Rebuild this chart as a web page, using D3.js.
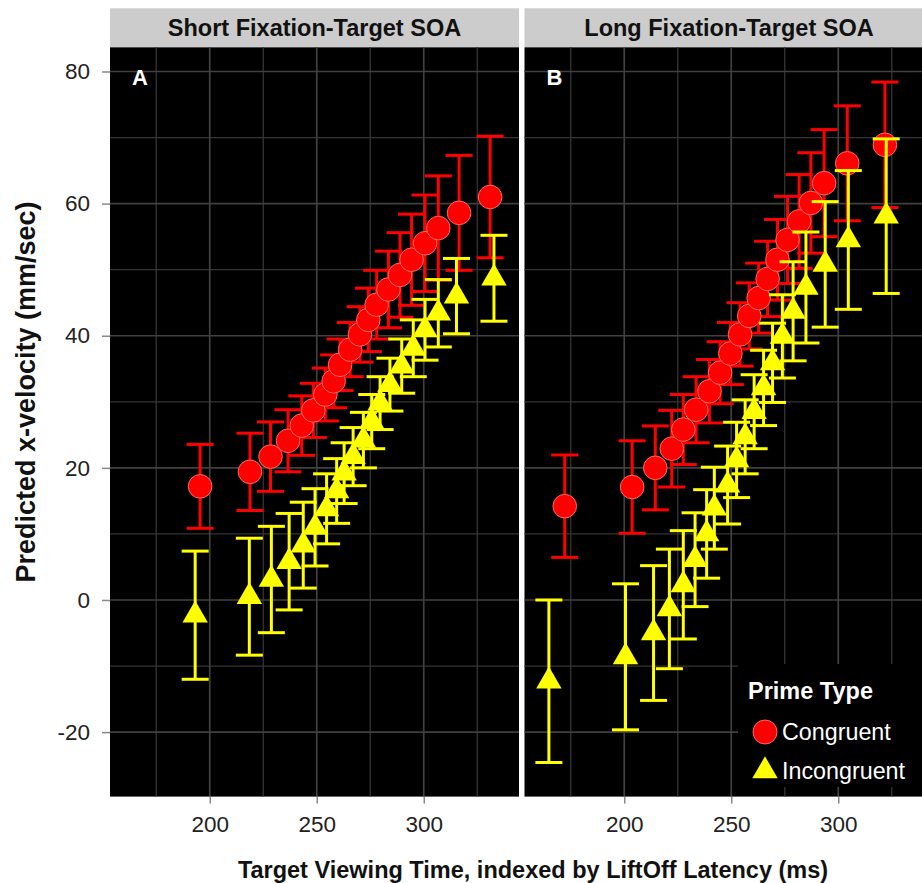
<!DOCTYPE html>
<html>
<head>
<meta charset="utf-8">
<script src="https://cdn.jsdelivr.net/npm/d3@7"></script>
<style>
  body { margin: 0; background: #ffffff; }
  svg { display: block; font-family: "Liberation Sans", Arial, Helvetica, sans-serif; }
</style>
</head>
<body>
<svg id="chart" width="922" height="883"></svg>
<script>
// ---------------- DATA ----------------
const panelTitles = ["Short Fixation-Target SOA", "Long Fixation-Target SOA"];
const panelTags = ["A", "B"];
const seriesNames = ["Congruent", "Incongruent"];
const xTicks = [200, 250, 300];
const xMinorTicks = [175, 225, 275, 325];
const yTicks = [-20, 0, 20, 40, 60, 80];
const yMinorTicks = [-10, 10, 30, 50, 70];

// Short SOA, Congruent
const shortCongX  = [195.5, 218.8, 228.4, 236.6, 243.0, 248.4, 254.0, 257.9, 260.9, 265.6, 270.2, 274.1, 278.0, 283.5, 288.9, 294.3, 300.6, 306.8, 316.5, 331.0];
const shortCongY  = [17.2, 19.4, 21.7, 24.1, 26.4, 28.7, 31.1, 33.1, 35.6, 37.9, 40.2, 42.4, 44.7, 47.0, 49.2, 51.5, 54.0, 56.3, 58.6, 61.0];
const shortCongSE = [6.35, 5.85, 5.25, 4.7, 4.5, 4.1, 4.0, 4.0, 3.9, 4.1, 4.2, 4.8, 5.2, 5.8, 6.4, 6.9, 7.3, 7.9, 8.7, 9.2];
// Short SOA, Incongruent
const shortIncX  = [193.2, 218.5, 228.8, 237.1, 243.7, 249.2, 254.6, 259.3, 262.8, 267.0, 271.8, 275.7, 279.6, 284.2, 289.7, 295.1, 300.6, 306.8, 315.3, 332.8];
const shortIncY  = [-2.3, 0.5, 3.1, 5.8, 8.3, 11.0, 13.8, 16.5, 19.2, 21.7, 24.2, 27.0, 29.8, 32.6, 35.4, 38.1, 40.9, 43.4, 46.0, 48.7];
const shortIncSE = [9.7, 8.85, 8.05, 7.3, 6.5, 5.85, 5.3, 4.9, 4.6, 4.4, 4.2, 4.1, 4.0, 4.0, 4.1, 4.3, 4.6, 5.1, 5.7, 6.5];
// Long SOA, Congruent
const longCongX  = [172.2, 203.7, 214.5, 222.2, 227.6, 233.6, 239.8, 244.8, 249.6, 254.1, 258.4, 262.8, 267.0, 271.6, 276.3, 281.7, 287.2, 293.4, 304.2, 321.8];
const longCongY  = [14.2, 17.1, 20.0, 22.9, 25.8, 28.8, 31.6, 34.4, 37.3, 40.2, 43.0, 45.7, 48.6, 51.5, 54.5, 57.3, 60.1, 63.1, 66.1, 68.9];
const longCongSE = [7.75, 7.0, 6.35, 5.8, 5.3, 5.0, 4.8, 4.7, 4.7, 4.8, 5.0, 5.3, 5.7, 6.1, 6.6, 7.1, 7.6, 8.1, 8.7, 9.5];
// Long SOA, Incongruent
const longIncX  = [164.8, 200.6, 213.7, 221.1, 227.6, 233.1, 238.5, 242.1, 248.3, 252.5, 256.5, 260.7, 265.1, 269.3, 273.9, 278.9, 284.9, 293.9, 304.7, 322.4];
const longIncY  = [-12.3, -8.6, -5.0, -1.35, 2.3, 6.1, 10.0, 13.9, 17.4, 21.2, 24.7, 28.5, 32.1, 35.9, 39.9, 43.7, 47.3, 50.8, 54.5, 58.1];
const longIncSE = [12.3, 11.05, 10.2, 9.05, 8.2, 7.1, 6.7, 6.2, 5.9, 5.7, 5.6, 5.6, 5.7, 6.0, 6.3, 7.5, 8.4, 9.5, 10.5, 11.7];

// ---------------- BUILD ----------------
function rows(xs, ys, ses) { return xs.map((v, i) => ({ x: v, y: ys[i], se: ses[i] })); }
const panelData = [
  [rows(shortCongX, shortCongY, shortCongSE), rows(shortIncX, shortIncY, shortIncSE)],
  [rows(longCongX, longCongY, longCongSE), rows(longIncX, longIncY, longIncSE)]
];

const svg = d3.select("#chart");
const L = { lefts: [110, 524.5], w: 409, top: 47.3, bottom: 796.6, stripTop: 8.3 };
const ph = L.bottom - L.top;
const x = d3.scaleLinear().domain([153.4, 344.5]).range([0, L.w]);
const y = d3.scaleLinear().domain([-29.76, 83.66]).range([ph, 0]);

const colors = ["#ff0000", "#ffff00"];
const capHalf = 13.5;
const triSym = d3.symbol().type(d3.symbolTriangle).size(280);
const plainFmt = d => String(d);

svg.append("rect").attr("width", 922).attr("height", 883).attr("fill", "#fff");

panelData.forEach((series, pi) => {
  const g = svg.append("g").attr("transform", `translate(${L.lefts[pi]},${L.top})`);
  // strip
  g.append("rect").attr("x", 0).attr("y", L.stripTop - L.top).attr("width", L.w)
    .attr("height", L.top - L.stripTop - 0.3).attr("fill", "#cccccc");
  g.append("text").attr("x", L.w / 2).attr("y", 36 - L.top).attr("text-anchor", "middle")
    .attr("font-size", 23.5).attr("font-weight", "bold").attr("fill", "#111").text(panelTitles[pi]);
  // panel background
  g.append("rect").attr("width", L.w).attr("height", ph).attr("fill", "#000");
  // grid
  g.selectAll(".gminx").data(xMinorTicks).join("line")
    .attr("x1", d => x(d)).attr("x2", d => x(d)).attr("y1", 0).attr("y2", ph)
    .attr("stroke", "#353535").attr("stroke-width", 1.3);
  g.selectAll(".gminy").data(yMinorTicks).join("line")
    .attr("x1", 0).attr("x2", L.w).attr("y1", d => y(d)).attr("y2", d => y(d))
    .attr("stroke", "#353535").attr("stroke-width", 1.3);
  g.selectAll(".gmajx").data(xTicks).join("line")
    .attr("x1", d => x(d)).attr("x2", d => x(d)).attr("y1", 0).attr("y2", ph)
    .attr("stroke", "#404040").attr("stroke-width", 1.7);
  g.selectAll(".gmajy").data(yTicks).join("line")
    .attr("x1", 0).attr("x2", L.w).attr("y1", d => y(d)).attr("y2", d => y(d))
    .attr("stroke", "#404040").attr("stroke-width", 1.7);
  // tag
  g.append("text").attr("x", 30).attr("y", 85 - L.top).attr("text-anchor", "middle")
    .attr("font-size", 22).attr("font-weight", "bold").attr("fill", "#fff").text(panelTags[pi]);

  // series
  series.forEach((pts, si) => {
    const col = colors[si];
    const sg = g.append("g");
    const eb = sg.selectAll(".eb").data(pts).join("g").attr("stroke", col).attr("stroke-width", 3).attr("fill", "none");
    eb.append("line").attr("x1", d => x(d.x)).attr("x2", d => x(d.x))
      .attr("y1", d => y(d.y + d.se)).attr("y2", d => y(d.y - d.se));
    eb.append("line").attr("x1", d => x(d.x) - capHalf).attr("x2", d => x(d.x) + capHalf)
      .attr("y1", d => y(d.y + d.se)).attr("y2", d => y(d.y + d.se));
    eb.append("line").attr("x1", d => x(d.x) - capHalf).attr("x2", d => x(d.x) + capHalf)
      .attr("y1", d => y(d.y - d.se)).attr("y2", d => y(d.y - d.se));
    if (si === 0) {
      sg.selectAll(".pt").data(pts).join("circle")
        .attr("cx", d => x(d.x)).attr("cy", d => y(d.y)).attr("r", 11.8)
        .attr("fill", col).attr("stroke", "#ff6a5a").attr("stroke-width", 1);
    } else {
      sg.selectAll(".pt").data(pts).join("path")
        .attr("transform", d => `translate(${x(d.x)},${y(d.y)})`).attr("d", triSym)
        .attr("fill", col);
    }
  });

  // x axis
  const xa = g.append("g").attr("transform", `translate(0,${ph})`)
    .call(d3.axisBottom(x).tickValues(xTicks).tickSize(7).tickPadding(12.4).tickFormat(plainFmt));
  xa.select(".domain").remove();
  xa.selectAll(".tick line").attr("stroke", "#888").attr("stroke-width", 1.5);
  xa.selectAll(".tick text").attr("font-size", 22.5).attr("fill", "#222").attr("font-family", null);

  if (pi === 0) {
    const ya = g.append("g")
      .call(d3.axisLeft(y).tickValues(yTicks).tickSize(8).tickPadding(12).tickFormat(plainFmt));
    ya.select(".domain").remove();
    ya.selectAll(".tick line").attr("stroke", "#888").attr("stroke-width", 1.5);
    ya.selectAll(".tick text").attr("font-size", 22.5).attr("fill", "#222").attr("font-family", null);
  }
});

// axis titles
svg.append("text").attr("x", 533).attr("y", 878).attr("text-anchor", "middle")
  .attr("font-size", 23.5).attr("font-weight", "bold").attr("fill", "#111")
  .text("Target Viewing Time, indexed by LiftOff Latency (ms)");
svg.append("text").attr("transform", "translate(35,392) rotate(-90)")
  .attr("text-anchor", "middle").attr("font-size", 27).attr("font-weight", "bold").attr("fill", "#111")
  .text("Predicted x-velocity (mm/sec)");

// legend
const lg = svg.append("g");
lg.append("rect").attr("x", 738).attr("y", 664).attr("width", 200).attr("height", 123).attr("fill", "#000");
lg.append("text").attr("x", 748).attr("y", 699).attr("font-size", 23.5).attr("font-weight", "bold")
  .attr("fill", "#fff").text("Prime Type");
seriesNames.forEach((name, i) => {
  const cy = 732 + i * 39;
  if (i === 0) {
    lg.append("circle").attr("cx", 765).attr("cy", cy).attr("r", 12)
      .attr("fill", colors[0]).attr("stroke", "#ff6a5a").attr("stroke-width", 1);
  } else {
    lg.append("path").attr("transform", `translate(765,${cy})`).attr("d", triSym).attr("fill", colors[1]);
  }
  lg.append("text").attr("x", 782).attr("y", cy + 8).attr("font-size", 23.3).attr("fill", "#fff").text(name);
});
</script>
</body>
</html>
